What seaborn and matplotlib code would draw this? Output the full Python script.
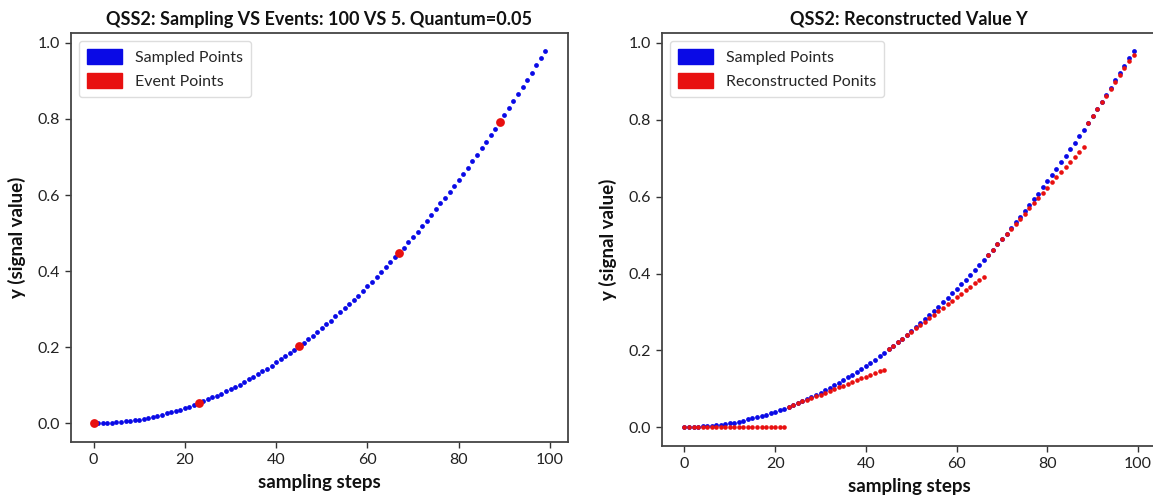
import matplotlib
matplotlib.use("Agg")
import matplotlib.pyplot as plt
import matplotlib.patches as mpatches
import seaborn as sns
import pandas as pd

steps = list(range(100))
sampled_y = [
    0.000, 0.000, 0.000, 0.001, 0.002, 0.003, 0.004, 0.005, 0.006, 0.008,
    0.010, 0.012, 0.014, 0.017, 0.020, 0.023, 0.026, 0.029, 0.032, 0.036,
    0.040, 0.044, 0.048, 0.053, 0.058, 0.063, 0.068, 0.073, 0.078, 0.084,
    0.090, 0.096, 0.102, 0.109, 0.116, 0.123, 0.130, 0.137, 0.144, 0.152,
    0.160, 0.168, 0.176, 0.185, 0.194, 0.203, 0.212, 0.221, 0.230, 0.240,
    0.250, 0.260, 0.270, 0.281, 0.292, 0.303, 0.314, 0.325, 0.336, 0.348,
    0.360, 0.372, 0.384, 0.397, 0.410, 0.423, 0.436, 0.449, 0.462, 0.476,
    0.490, 0.504, 0.518, 0.533, 0.548, 0.563, 0.578, 0.593, 0.608, 0.624,
    0.640, 0.656, 0.672, 0.689, 0.706, 0.723, 0.740, 0.757, 0.774, 0.792,
    0.810, 0.828, 0.846, 0.865, 0.884, 0.903, 0.922, 0.941, 0.960, 0.980,
]
event_steps = [0, 23, 45, 67, 89]
event_y = [0.000, 0.053, 0.203, 0.449, 0.792]
recon_y = [
    0.000, 0.000, 0.000, 0.000, 0.000, 0.000, 0.000, 0.000, 0.000, 0.000,
    0.000, 0.000, 0.000, 0.000, 0.000, 0.000, 0.000, 0.000, 0.000, 0.000,
    0.000, 0.000, 0.000,
    0.053, 0.058, 0.062, 0.067, 0.071, 0.076, 0.081, 0.085, 0.090, 0.094,
    0.099, 0.104, 0.108, 0.113, 0.117, 0.122, 0.127, 0.131, 0.136, 0.140,
    0.145, 0.150,
    0.203, 0.212, 0.221, 0.230, 0.239, 0.248, 0.257, 0.266, 0.275, 0.284,
    0.293, 0.302, 0.311, 0.320, 0.329, 0.338, 0.347, 0.356, 0.365, 0.374,
    0.383, 0.392,
    0.449, 0.462, 0.476, 0.489, 0.503, 0.516, 0.529, 0.543, 0.556, 0.570,
    0.583, 0.596, 0.610, 0.623, 0.637, 0.650, 0.663, 0.677, 0.690, 0.704,
    0.717, 0.730,
    0.792, 0.810, 0.828, 0.846, 0.863, 0.881, 0.899, 0.917, 0.935, 0.952,
    0.970,
]
xticks = [0, 20, 40, 60, 80, 100]
yticks = [0.0, 0.2, 0.4, 0.6, 0.8, 1.0]

sns.set_style("white")
plt.rcParams["font.family"] = ["Lato", "DejaVu Sans"]

BLUE = "#0a0ae6"
RED = "#e81010"

df = pd.DataFrame({"step": steps, "y": sampled_y, "recon": recon_y})
ev = pd.DataFrame({"step": event_steps, "y": event_y})

W, H = 1153, 500
fig = plt.figure(figsize=(W / 100, H / 100), dpi=100)
ax1 = fig.add_axes([71 / W, 1 - 442 / H, (568 - 71) / W, (442 - 33) / H])
ax2 = fig.add_axes([662 / W, 1 - 446 / H, (1156 - 662) / W, (446 - 33) / H])

sns.scatterplot(data=df, x="step", y="y", ax=ax1, color=BLUE, s=12,
                linewidth=0, legend=False, zorder=3)
sns.scatterplot(data=ev, x="step", y="y", ax=ax1, color=RED, s=40,
                linewidth=0, legend=False, zorder=4)

sns.scatterplot(data=df, x="step", y="y", ax=ax2, color=BLUE, s=12,
                linewidth=0, legend=False, zorder=3)
sns.scatterplot(data=df, x="step", y="recon", ax=ax2, color=RED, s=11,
                linewidth=0, legend=False, zorder=4)

titles = ["QSS2: Sampling VS Events: 100 VS 5. Quantum=0.05",
          "QSS2: Reconstructed Value Y"]
legend_labels = [["Sampled Points", "Event Points"],
                 ["Sampled Points", "Reconstructed Ponits"]]

for ax, title, labs in zip([ax1, ax2], titles, legend_labels):
    ax.set_xlim(-4.95, 103.95)
    ax.set_ylim(-0.049, 1.026)
    ax.set_xticks(xticks)
    ax.set_yticks(yticks)
    ax.set_xticklabels([str(t) for t in xticks])
    ax.set_yticklabels([f"{t:.1f}" for t in yticks])
    ax.tick_params(axis="both", which="major", length=4, width=1,
                   color="#333333", labelsize=11.5, labelcolor="#222222",
                   direction="out", bottom=True, left=True, pad=4)
    for sp in ax.spines.values():
        sp.set_color("#444444")
        sp.set_linewidth(1.3)
    ax.set_title(title, fontsize=13, fontweight="bold", color="#111111", pad=6)
    ax.set_xlabel("sampling steps", fontsize=13.5, fontweight="bold",
                  color="#111111", labelpad=5)
    ax.set_ylabel("y (signal value)", fontsize=13.5, fontweight="bold",
                  color="#111111", labelpad=8)
    handles = [mpatches.Patch(color=BLUE, label=labs[0]),
               mpatches.Patch(color=RED, label=labs[1])]
    ax.legend(handles=handles, loc="upper left", fontsize=11.5,
              frameon=True, framealpha=1, edgecolor="#dddddd",
              handlelength=2.2, handleheight=1.1, borderpad=0.5)

fig.savefig("out.png", dpi=100)
